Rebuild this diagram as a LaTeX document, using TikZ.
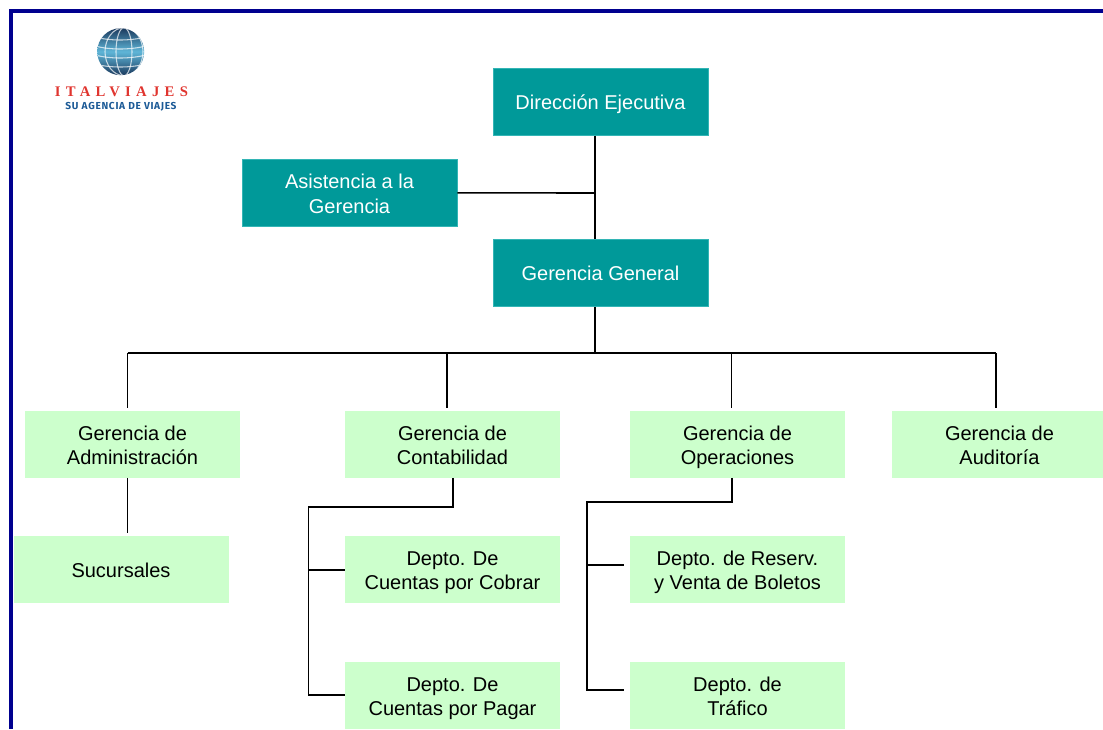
\documentclass[tikz,border=0pt]{standalone}
\usepackage{fontspec}
\setmainfont{Liberation Sans}
\newfontfamily\logofont[LetterSpace=36]{Liberation Serif}
\newfontfamily\logosubfont[LetterSpace=7]{Fira Sans Bold}
\definecolor{marco}{HTML}{00008F}
\definecolor{verdeosc}{HTML}{009999}
\definecolor{bordeosc}{HTML}{33B5B5}
\definecolor{verdecla}{HTML}{CCFFCC}
\definecolor{rojologo}{HTML}{E0352F}
\definecolor{azullogo}{HTML}{1C5A96}
\definecolor{globoosc}{HTML}{1B3A5E}
\definecolor{globocla}{HTML}{5FB6D8}
\tikzset{
	x=0.75pt,y=-0.75pt,
	cargo/.style={minimum width=161.25pt,minimum height=50.25pt,inner sep=0pt,align=center,
		font=\fontsize{15}{18.2}\selectfont,
		execute at begin node=\rule{0pt}{15pt},
		execute at end node=\rule[-3.4pt]{0pt}{3.4pt}},
	dos/.style={execute at begin node=\rule{0pt}{34pt}},
	alto/.style={cargo,fill=verdeosc,draw=bordeosc,line width=0.4pt,text=white},
	bajo/.style={cargo,fill=verdecla,text=black},
	linea/.style={line width=1.2pt,black},
	malla/.style={white,line width=0.8pt,opacity=.7},
}
\begin{document}
\begin{tikzpicture}
	
	\useasboundingbox (0,0) rectangle (1103,729);
	\clip (0,0) rectangle (1103,729);
	
	\coordinate (mi) at (10.5,729);
	\coordinate (ms) at (10.5,11);
	\coordinate (md) at (1103,11);
	\draw[marco,line width=3pt,line join=miter](mi) -- (ms) -- (md);
	
	\coordinate (globo) at (120.7,51.7);
	\begin{scope}
		\clip (globo) circle (23.5);
		\shade[top color=globoosc,bottom color=globoosc,middle color=globocla] (globo) circle (23.5);
		\draw[malla] (124,51.7) ellipse (8 and 24);
		\draw[malla] (124,51.7) ellipse (19 and 24);
		\foreach \y in {38,47,56,65}
			\draw[malla] (95,\y-1) .. controls (110,\y+3) and (130,\y+3) .. (146,\y-1);
	\end{scope}
	\node[text=rojologo,inner sep=0pt,font=\logofont\bfseries\fontsize{11}{12}\selectfont] (marca) at (121.4,91.7) {ITALVIAJES};
	\node[text=azullogo,inner sep=0pt,font=\logosubfont\fontsize{7.6}{8}\selectfont] (lema) at (121,106.7) {SU AGENCIA DE VIAJES};
	
	\node[alto] (direccion) at (600.5,101.8) {Dirección Ejecutiva};
	\node[alto,dos] (asistencia) at (349.5,192.8) {Asistencia a la\\Gerencia};
	\node[alto] (general) at (600.5,273) {Gerencia General};
	
	\node[bajo,dos] (admin) at (132.5,444) {Gerencia de\\Administración};
	\node[bajo,dos] (conta) at (452.5,444) {Gerencia de\\Contabilidad};
	\node[bajo,dos] (opera) at (737.5,444) {Gerencia de\\Operaciones};
	\node[bajo,dos] (audit) at (999.5,444) {Gerencia de\\Auditoría};
	
	\node[bajo] (sucursales) at (121,569.4) {Sucursales};
	\node[bajo,dos] (cobrar) at (452.5,569.4) {Depto. De\\Cuentas por Cobrar};
	\node[bajo,dos] (pagar) at (452.5,695.3) {Depto. De\\Cuentas por Pagar};
	\node[bajo,dos] (reserv) at (737.5,569.4) {Depto. de Reserv.\\y Venta de Boletos};
	\node[bajo,dos] (trafico) at (737.5,695.3) {Depto. de\\Tráfico};
	
	\coordinate (eje) at (595,193);
	\coordinate (bus) at (595,353);
	\coordinate (busa) at (127.5,353);
	\coordinate (busc) at (447,353);
	\coordinate (buso) at (731.5,353);
	\coordinate (busd) at (996,353);
	\coordinate (fina) at (127.5,408);
	\coordinate (finc) at (447,408);
	\coordinate (fino) at (731.5,408);
	\coordinate (find) at (996,408);
	\coordinate (finadm) at (127.5,533);
	\coordinate (codoc) at (452.7,507);
	\coordinate (codod) at (308.3,507);
	\coordinate (ramac) at (308.3,570);
	\coordinate (ramap) at (308.3,695);
	\coordinate (codoo) at (732,502);
	\coordinate (codop) at (587,502);
	\coordinate (ramar) at (587,565);
	\coordinate (ramat) at (587,690);
	\coordinate (finr) at (624,565);
	\coordinate (fint) at (624,690);
	
	\draw[linea](eje |- direccion.south) -- (eje |- general.north);
	\draw[linea](asistencia.east) -- (eje);
	\draw[linea](bus |- general.south) -- (bus);
	\draw[linea](busa) -- (busd);
	\draw[linea](busa) -- (fina);
	\draw[linea](busc) -- (finc);
	\draw[linea](buso) -- (fino);
	\draw[linea](busd) -- (find);
	\draw[linea](finadm |- admin.south) -- (finadm);
	
	\draw[linea](codoc |- conta.south) -- (codoc) -- (codod) -- (ramap) -- (ramap -| pagar.west);
	\draw[linea](ramac) -- (ramac -| cobrar.west);
	\draw[linea](codoo |- opera.south) -- (codoo) -- (codop) -- (ramat) -- (fint);
	\draw[linea](ramar) -- (finr);
	
\end{tikzpicture}
\end{document}
